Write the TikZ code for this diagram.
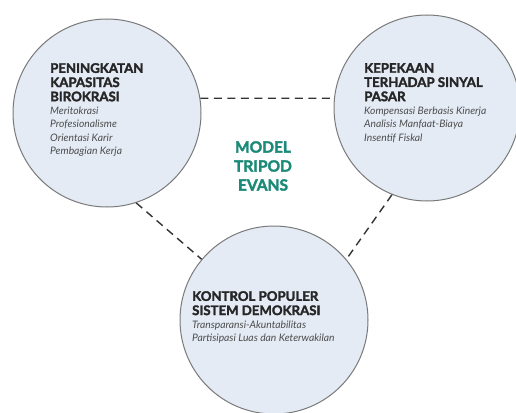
\documentclass[tikz,border=0pt]{standalone}
\usepackage{fontspec}
\setmainfont{Lato}[BoldFeatures={FakeBold=2.2}]
\definecolor{pilar}{HTML}{E4EBF5}
\definecolor{tepi}{HTML}{7A7A7A}
\definecolor{judul}{HTML}{1B8A78}
\begin{document}
\begin{tikzpicture}[x=1pt, y=-1pt, line join=round,
    pilarbox/.style={circle, draw=tepi, line width=1pt, fill=pilar, inner sep=0pt, minimum size=#1},
    isi/.style={anchor=north west, align=left, inner sep=0pt, text=black!85},
    kepala/.style={font=\fontsize{13.2}{14.2}\selectfont\bfseries},
    butir/.style={font=\fontsize{10.3}{13.2}\selectfont\itshape, text=black!70},
    garis/.style={dashed, dash pattern=on 8pt off 5.5pt, line width=1.4pt, draw=black!80}]
    \useasboundingbox (0,0) rectangle (516,412);
    % tiga pilar
    \node[pilarbox=188pt] (lft) at (107,113) {};
    \node[pilarbox=186pt] (rgt) at (427,108) {};
    \node[pilarbox=188pt] (btm) at (274,320) {};
    % penghubung
    \draw[garis] (lft.9) -- (rgt.174);
    \draw[garis] (lft.-72) -- (btm.140);
    \draw[garis] (rgt.-112) -- (btm.40);
    % isi tiap pilar
    \node[isi, kepala] (lftHead) at (50,63) {PENINGKATAN\\KAPASITAS\\BIROKRASI};
    \node[isi, butir] (lftItem) at (50,107) {Meritokrasi\\Profesionalisme\\Orientasi Karir\\Pembagian Kerja};
    \node[isi, kepala] (rgtHead) at (364,63) {KEPEKAAN\\TERHADAP SINYAL\\PASAR};
    \node[isi, butir] (rgtItem) at (364,107) {Kompensasi Berbasis Kinerja\\Analisis Manfaat-Biaya\\Insentif Fiskal};
    \node[isi, kepala] (btmHead) at (192,291) {KONTROL POPULER\\SISTEM DEMOKRASI};
    \node[isi, butir] (btmItem) at (192,321) {Transparansi-Akuntabilitas\\Partisipasi Luas dan Keterwakilan};
    % judul tengah
    \node[align=center, text=judul, font=\fontsize{15.5}{19}\selectfont\bfseries] (model) at (263,166) {MODEL\\TRIPOD\\EVANS};
\end{tikzpicture}
\end{document}
